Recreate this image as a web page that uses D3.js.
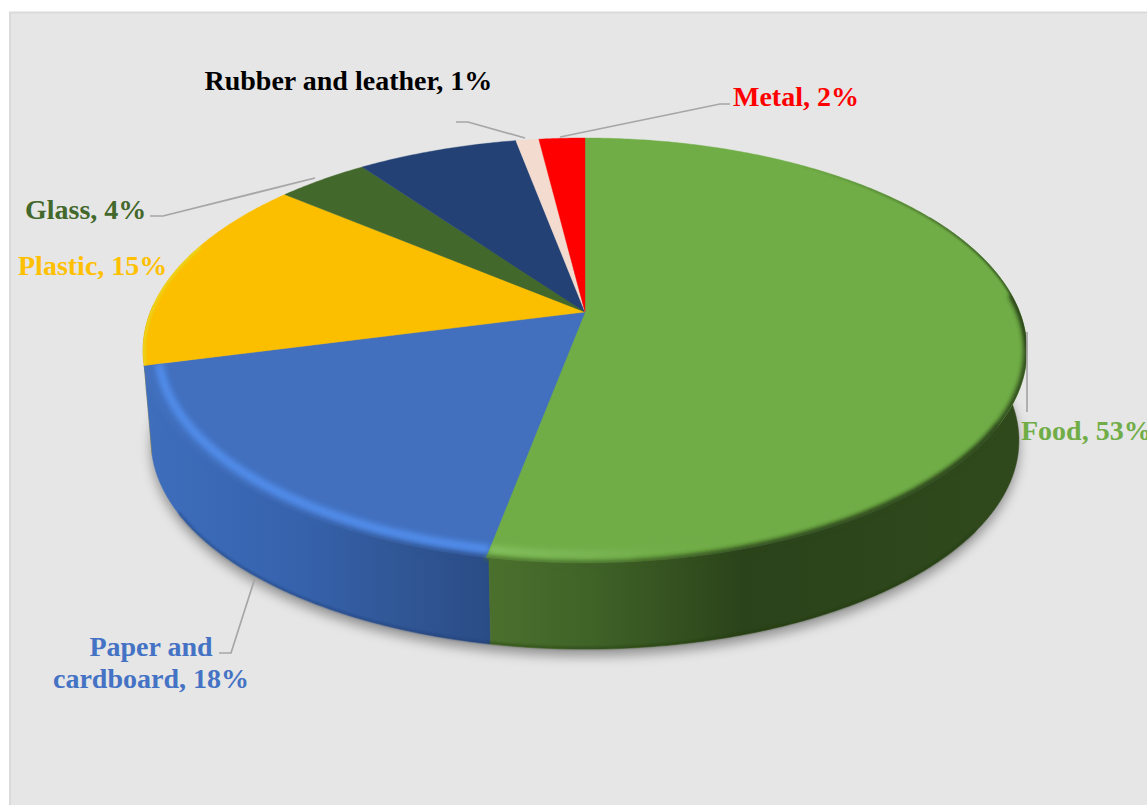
<!DOCTYPE html>
<html>
<head>
<meta charset="utf-8">
<title>Waste composition</title>
<script src="https://cdn.jsdelivr.net/npm/d3@7/dist/d3.min.js"></script>
<style>
  html, body { margin: 0; padding: 0; background: #fff; overflow: hidden; }
  svg { display: block; }
  text { font-family: "Liberation Serif", "Times New Roman", serif; font-weight: bold; font-size: 28px; }
</style>
</head>
<body>
<svg id="chart" width="1147" height="805"></svg>
<script>
// Composition by material, in percent, clockwise from twelve o'clock
const categories = ["Food", "Paper and cardboard", "Plastic", "Glass", "Other", "Rubber and leather", "Metal"];
const shares = [53, 18, 15, 4, 7, 1, 2];
const faceColors = ["#70ad47", "#4270bf", "#fbbf00", "#43682b", "#234175", "#f3dccf", "#ff0000"];
const labelColors = ["#70ad47", "#4472c4", "#ffc000", "#43682b", null, "#000000", "#ff0000"];

// Where each caption sits and how its leader runs
const captions = {
  "Food": { x: 1021, y: 440, leader: [[1027, 332], [1027, 412]] },
  "Paper and cardboard": { x: 151, y: 656, anchor: "middle", lines: ["Paper and", "cardboard, 18%"],
    leader: [[255, 578], [231, 653], [219, 653]] },
  "Plastic": { x: 18, y: 275, leader: null },
  "Glass": { x: 25, y: 219, leader: [[150, 216], [163, 216], [315, 178]] },
  "Rubber and leather": { x: 204.5, y: 90, leader: [[456, 122], [468, 122], [525, 138]] },
  "Metal": { x: 733, y: 106, leader: [[560, 137], [720, 104], [730, 104]] }
};

const svg = d3.select("#chart");
const defs = svg.append("defs");

// Perspective view of the disc: the far edge recedes toward the top
const tilt = 0.181;
const apex = { x: 585, y: 312 };
const spanX = 434.6, spanY = 205.5;
const xScale = d3.scaleLinear().domain([-1, 1]).range([apex.x - spanX, apex.x + spanX]);
const yScale = d3.scaleLinear().domain([-1, 1]).range([apex.y - spanY, apex.y + spanY]);

function rimPoint(a) {
  const u = Math.sin(a), v = -Math.cos(a), w = 1 - tilt * v;
  return [xScale(u / w), yScale(v / w)];
}
// The highlight of the rounded rim runs just inside the outer edge
const rimInset = 0.966;
function insetPoint(a) {
  const [x, y] = rimPoint(a);
  return [apex.x + (x - apex.x) * rimInset, apex.y + (y - apex.y) * rimInset];
}
// The underside outline is slightly smaller and dropped below the top face
const under = { cx: 584.5, cy: 350, drop: 90, k: 0.982 };
function basePoint(a) {
  const [x, y] = rimPoint(a);
  return [under.cx + (x - under.cx) * under.k, under.cy + under.drop + (y - under.cy) * under.k];
}
function sweep(a0, a1, fn) {
  const n = Math.max(2, Math.ceil(Math.abs(a1 - a0) / 0.01));
  return d3.range(n + 1).map(i => fn(a0 + (a1 - a0) * i / n));
}
const line = d3.line();
const deg = d => d * Math.PI / 180;

const arcs = d3.pie().sort(null).value(d => d)(shares);

function blur(id, sd) {
  defs.append("filter").attr("id", id).attr("filterUnits", "userSpaceOnUse")
    .attr("x", 0).attr("y", 0).attr("width", 1147).attr("height", 805)
    .append("feGaussianBlur").attr("stdDeviation", sd);
}
blur("soft-shadow", 6);
blur("soft-bevel", 2.5);
blur("soft-shade", 2);
blur("soft-edge", 1);

function gradient(id, x1, x2, stops) {
  const g = defs.append("linearGradient").attr("id", id).attr("gradientUnits", "userSpaceOnUse")
    .attr("x1", x1).attr("x2", x2).attr("y1", 0).attr("y2", 0);
  stops.forEach(s => g.append("stop").attr("offset", s[0]).attr("stop-color", s[1]).attr("stop-opacity", s[2] ?? 1));
}
// Side-wall lighting
gradient("wall-food", 488, 1020, [[0, "#4b702d"], [0.2, "#3f6227"], [0.48, "#2b431a"], [1, "#30491c"]]);
gradient("wall-paper", 148, 490, [[0, "#3e6ebc"], [0.45, "#3662ac"], [0.75, "#305694"], [1, "#2a4c86"]]);
// Rim lighting: pale toward the viewer, shaded toward the right
gradient("bevel-food", 488, 720, [[0, "#82bf5d"], [0.5, "#7ab554", 0.8], [1, "#70ad47", 0]]);
gradient("shade-food", 600, 960, [[0, "#2f4a1c", 0], [0.6, "#2f4a1c", 0.7], [1, "#2f4a1c", 1]]);
gradient("rim-food", 790, 1026, [[0, "#2f4a1c", 0], [1, "#2f4a1c", 1]]);

// Backdrop panel, running off the right and bottom of the page
svg.append("rect").attr("x", 10).attr("y", 12.5).attr("width", 1160).attr("height", 820)
  .attr("fill", "#e6e6e6").attr("stroke", "#dadada").attr("stroke-width", 2);

// Cast shadow under the disc
svg.append("path")
  .attr("d", line(sweep(0, 2 * Math.PI, basePoint).map(p => [p[0], p[1] + 7])) + "Z")
  .attr("fill", "#000").attr("fill-opacity", 0.36).attr("filter", "url(#soft-shadow)");

// The wall seam sits a touch behind the face seam, under the rounded rim
const seamShift = deg(0.33);

// Side walls of the slices that face the viewer
const walls = [
  { index: 2, from: arcs[2].startAngle, to: deg(272), fill: "#c99a00" },
  { index: 1, from: arcs[1].startAngle - seamShift, to: arcs[1].endAngle, fill: "url(#wall-paper)" },
  { index: 0, from: deg(60), to: arcs[0].endAngle - seamShift, fill: "url(#wall-food)" }
];
svg.append("g").selectAll("path").data(walls).join("path")
  .attr("d", d => line(sweep(d.from, d.to, rimPoint).concat(sweep(d.to, d.from, basePoint))) + "Z")
  .attr("fill", d => d.fill).attr("stroke", d => d.fill).attr("stroke-width", 0.5);

// Darker line along the bottom of the wall, stopping before the silhouette turns upward
const footLines = [
  { from: arcs[1].startAngle, to: deg(240), stroke: "#1f3d70" },
  { from: deg(125), to: arcs[0].endAngle, stroke: "#22380f" }
];
svg.append("g").selectAll("path").data(footLines).join("path")
  .attr("d", d => line(sweep(d.from, d.to, basePoint).map(p => [p[0], p[1] - 1])))
  .attr("fill", "none").attr("stroke", d => d.stroke)
  .attr("stroke-opacity", 0.55).attr("stroke-width", 2).attr("filter", "url(#soft-edge)");

// Top faces
const facePath = d => line([[apex.x, apex.y]].concat(sweep(d.startAngle, d.endAngle, rimPoint))) + "Z";
const clipIds = arcs.map((d, i) => "face-clip-" + i);
defs.selectAll("clipPath").data(arcs).join("clipPath").attr("id", (d, i) => clipIds[i])
  .append("path").attr("d", facePath);
svg.append("g").selectAll("path").data(arcs).join("path")
  .attr("d", facePath)
  .attr("fill", (d, i) => faceColors[i])
  .attr("stroke", (d, i) => faceColors[i]).attr("stroke-width", 0.4);

// Rounded rim along the near edge of the top faces
const bevels = [
  { index: 2, from: arcs[2].startAngle, to: deg(290), at: rimPoint, stroke: "#ecd21c", width: 5, filter: "soft-edge" },
  { index: 1, from: arcs[1].startAngle, to: arcs[1].endAngle, at: insetPoint, stroke: "#508be8", width: 9, filter: "soft-bevel" },
  { index: 0, from: deg(140), to: arcs[0].endAngle, at: insetPoint, stroke: "url(#bevel-food)", width: 9, filter: "soft-bevel" },
  { index: 0, from: deg(85), to: deg(175), at: rimPoint, stroke: "url(#shade-food)", width: 7, filter: "soft-shade" },
  { index: 0, from: deg(30), to: deg(100), at: rimPoint, stroke: "url(#rim-food)", width: 3, filter: "soft-edge" }
];
svg.append("g").selectAll("g").data(bevels).join("g")
  .attr("clip-path", d => `url(#${clipIds[d.index]})`)
  .append("path")
  .attr("d", d => line(sweep(d.from, d.to, d.at)))
  .attr("fill", "none").attr("stroke", d => d.stroke).attr("stroke-width", d => d.width)
  .attr("filter", d => `url(#${d.filter})`);

// Soft transition where the top face rolls over into the wall
const rollovers = [
  { from: arcs[1].startAngle, to: deg(250), stroke: "url(#wall-paper)" },
  { from: deg(120), to: arcs[0].endAngle, stroke: "url(#wall-food)" }
];
svg.append("g").selectAll("path").data(rollovers).join("path")
  .attr("d", d => line(sweep(d.from, d.to, rimPoint)))
  .attr("fill", "none").attr("stroke", d => d.stroke).attr("stroke-width", 4)
  .attr("filter", "url(#soft-shade)");

// Leaders and captions
const labelled = categories.map((name, i) => ({ name, value: shares[i], color: labelColors[i], spot: captions[name] }))
  .filter(d => d.spot);

svg.append("g").selectAll("path").data(labelled.filter(d => d.spot.leader)).join("path")
  .attr("d", d => line(d.spot.leader))
  .attr("fill", "none").attr("stroke", "#a6a6a6").attr("stroke-width", 1.7);

const texts = svg.append("g").selectAll("text").data(labelled).join("text")
  .attr("x", d => d.spot.x).attr("y", d => d.spot.y)
  .attr("text-anchor", d => d.spot.anchor || "start")
  .attr("fill", d => d.color);
texts.each(function (d) {
  const rows = d.spot.lines || [`${d.name}, ${d.value}%`];
  d3.select(this).selectAll("tspan").data(rows).join("tspan")
    .attr("x", d.spot.x).attr("dy", (r, i) => i ? 32 : 0).text(r => r);
});
</script>
</body>
</html>
